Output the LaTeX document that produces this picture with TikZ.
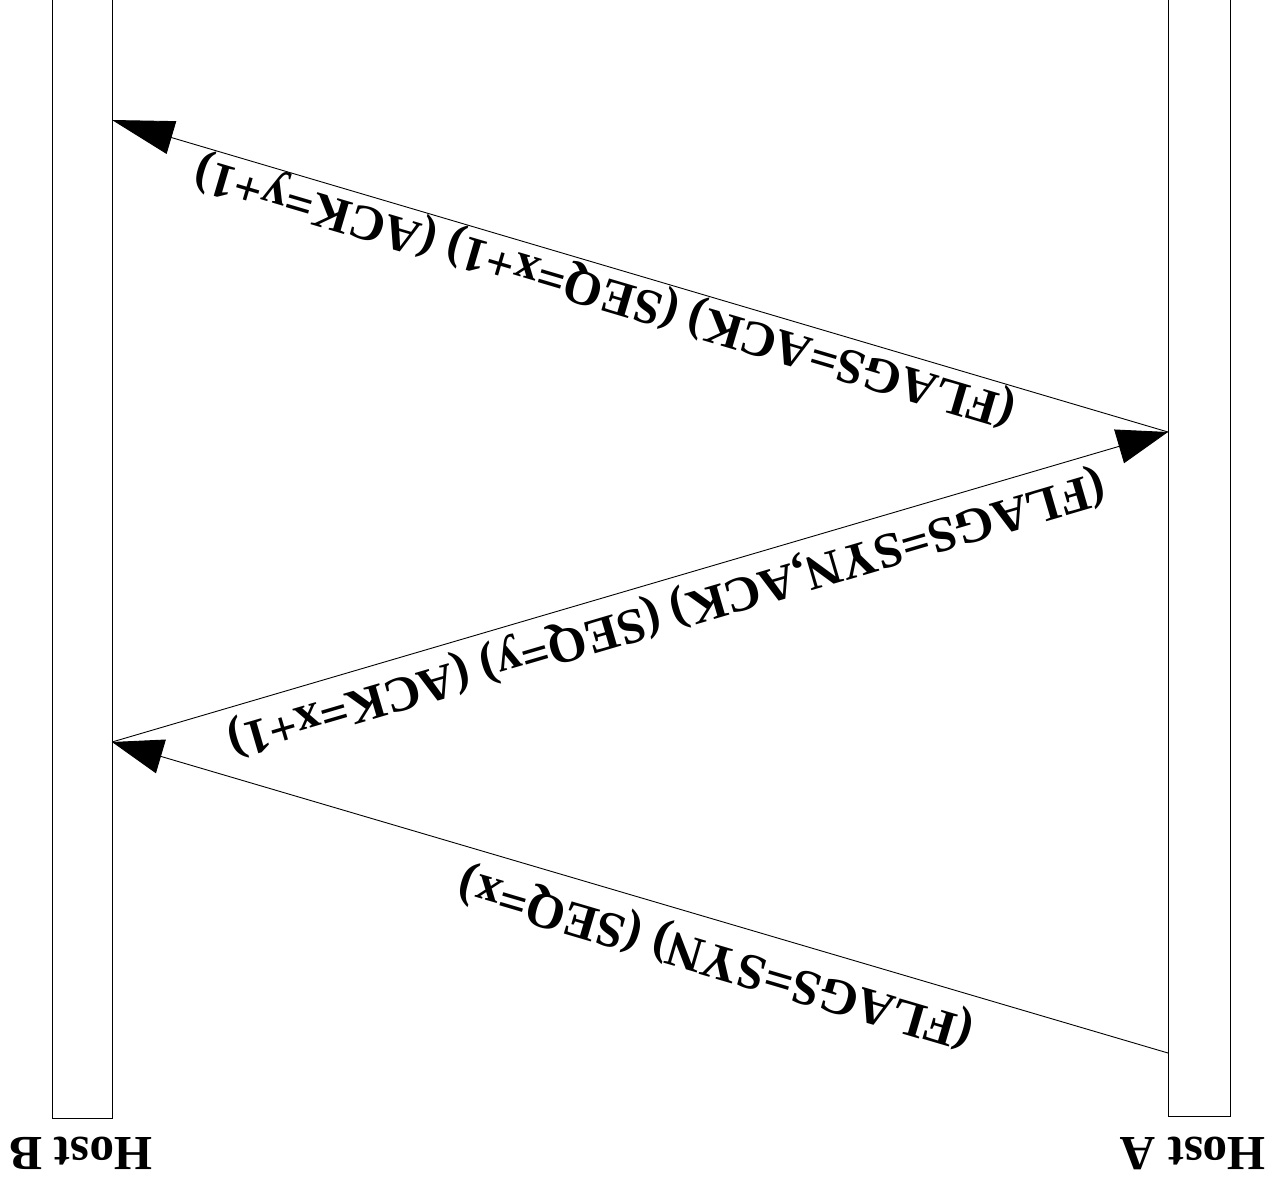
\documentclass[tikz,border=0pt]{standalone}
\usepackage{fontspec}
\setmainfont{Liberation Serif}
\usetikzlibrary{arrows.meta}
\begin{document}
\begin{tikzpicture}[x=1pt,y=-1pt,
  bar/.style={draw,line width=0.9pt},
  msg/.style={line width=0.9pt,-{Triangle[length=51pt,width=35pt]}},
  longmsg/.style={line width=0.9pt,-{Triangle[length=62pt,width=34pt]}},
  lbl/.style={font=\fontsize{50.5}{60}\selectfont\bfseries,inner sep=0pt},
  lblb/.style={font=\fontsize{49.8}{60}\selectfont\bfseries,inner sep=0pt},
  host/.style={font=\fontsize{49}{58}\selectfont\bfseries,inner sep=0pt,rotate=180}]
\useasboundingbox (0,0) rectangle (1270,1181);
% lifelines
\draw[bar] (52,-5) -- (52,1118) -- (112,1118) -- (112,-5);
\draw[bar] (1168,-5) -- (1168,1116) -- (1230,1116) -- (1230,-5);
\node[host] (hostB) at (81,1153) {Host B};
\node[host] (hostA) at (1193,1153) {Host A};
% anchor points
\coordinate (a1) at (1168,1053);
\coordinate (b1) at (112,742);
\coordinate (a2) at (1168,432);
\coordinate (b2) at (112,120);
% messages
\draw[msg] (a1) -- (b1);
\draw[msg] (b1) -- (a2);
\draw[longmsg] (a2) -- (b2);
% labels
\node[lbl,rotate=163.59] (l1) at (716,957) {(FLAGS=SYN) (SEQ=x)};
\node[lblb,rotate=196.36] (l2) at (666,612) {(FLAGS=SYN,ACK) (SEQ=y) (ACK=x+1)};
\node[lblb,rotate=163.54] (l3) at (605,290) {(FLAGS=ACK) (SEQ=x+1) (ACK=y+1)};
\end{tikzpicture}
\end{document}
